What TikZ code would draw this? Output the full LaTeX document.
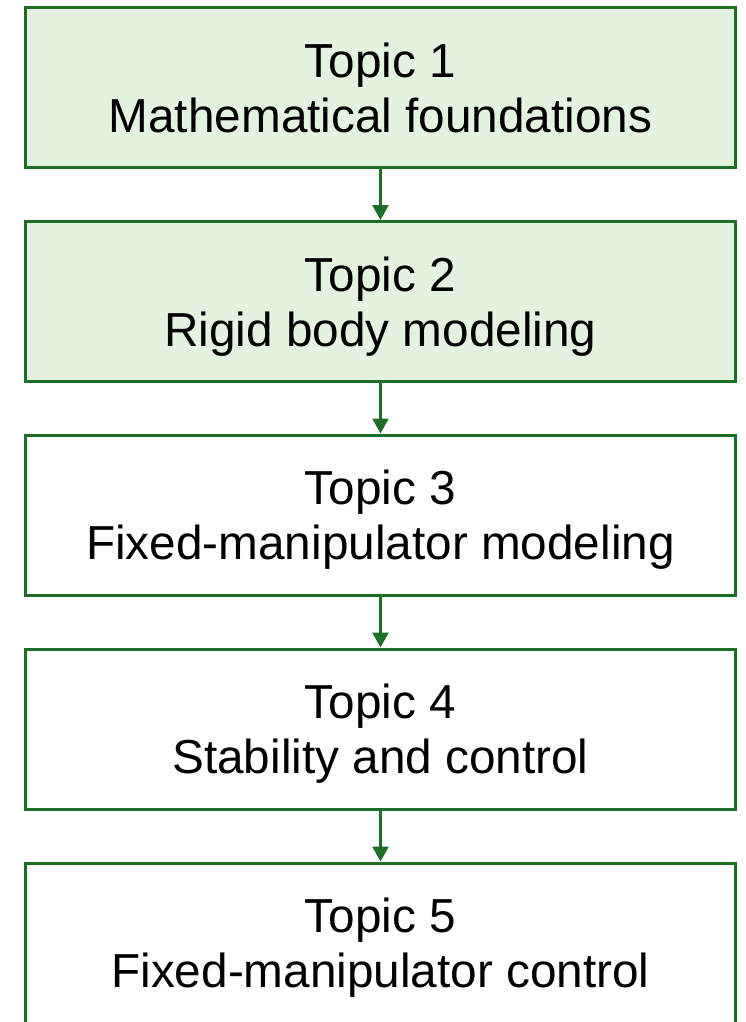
\documentclass[tikz,border=0pt]{standalone}
\usepackage{fontspec}
\setmainfont{Liberation Sans}
\usetikzlibrary{arrows.meta}
\definecolor{edgegreen}{HTML}{1E6E28}
\definecolor{fillgreen}{HTML}{E4F3DF}
\begin{document}
\begin{tikzpicture}[x=1pt,y=-1pt,
  topicbox/.style={draw=edgegreen, line width=3pt, minimum width=710pt, minimum height=160pt,
    inner sep=0pt, align=center, text depth=0pt, font=\fontsize{47.7}{55}\selectfont},
  donebox/.style={topicbox, fill=fillgreen},
  openbox/.style={topicbox, fill=white},
  link/.style={draw=edgegreen, line width=2.5pt, -{Triangle[length=15pt,width=16pt]}}]
\useasboundingbox (0,0) rectangle (746,1022);
\clip (0,0) rectangle (746,1022);
% course topics, the first two shaded
\node[donebox] (t1) at (380.5,87.5) {Topic 1\\Mathematical foundations};
\node[donebox] (t2) at (380.5,301.5) {Topic 2\\Rigid body modeling};
\node[openbox] (t3) at (380.5,515) {Topic 3\\Fixed-manipulator modeling};
\node[openbox] (t4) at (380.5,729) {Topic 4\\Stability and control};
\node[openbox] (t5) at (380.5,943) {Topic 5\\Fixed-manipulator control};
% sequence arrows
\draw[link] (t1) -- (t2);
\draw[link] (t2) -- (t3);
\draw[link] (t3) -- (t4);
\draw[link] (t4) -- (t5);
\end{tikzpicture}
\end{document}
